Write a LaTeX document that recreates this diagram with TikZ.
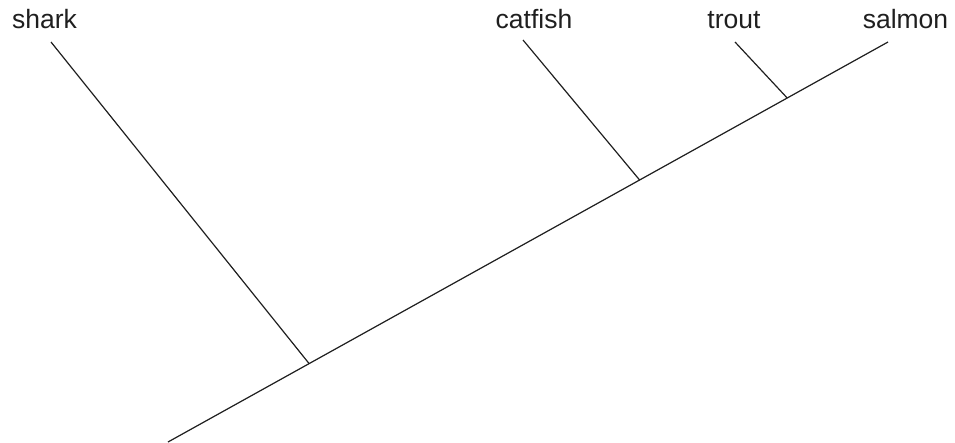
\documentclass[tikz,border=0pt]{standalone}
\usepackage{fontspec}
\setmainfont{Liberation Sans}
\usetikzlibrary{calc}
\begin{document}
\begin{tikzpicture}[x=1pt,y=-1pt]
\tikzstyle{every node}+=[inner sep=0pt]
\tikzstyle{taxon}=[anchor=base,text=black!88,font=\fontsize{26.5}{30}\selectfont]
\tikzstyle{branch}=[black!88,line width=1.2pt]
\useasboundingbox (0,0) rectangle (955,442);
% labels
\node [taxon] (shark) at (44.5,28.5) {shark};
\node [taxon] (catfish) at (534,28.5) {catfish};
\node [taxon] (trout) at (734,28.5) {trout};
\node [taxon] (salmon) at (905.5,28.5) {salmon};
% tips and junctions
\coordinate (root) at (168,442);
\coordinate (tshark) at (51,42);
\coordinate (tcatfish) at (523,40);
\coordinate (ttrout) at (735,42);
\coordinate (tsalmon) at (888,42);
\coordinate (jshark) at ($(root)!0.196!(tsalmon)$);
\coordinate (jcatfish) at ($(root)!0.655!(tsalmon)$);
\coordinate (jtrout) at ($(root)!0.86!(tsalmon)$);
% branches
\draw [branch] (root) -- (tsalmon);
\draw [branch] (tshark) -- (jshark);
\draw [branch] (tcatfish) -- (jcatfish);
\draw [branch] (ttrout) -- (jtrout);
\end{tikzpicture}
\end{document}
